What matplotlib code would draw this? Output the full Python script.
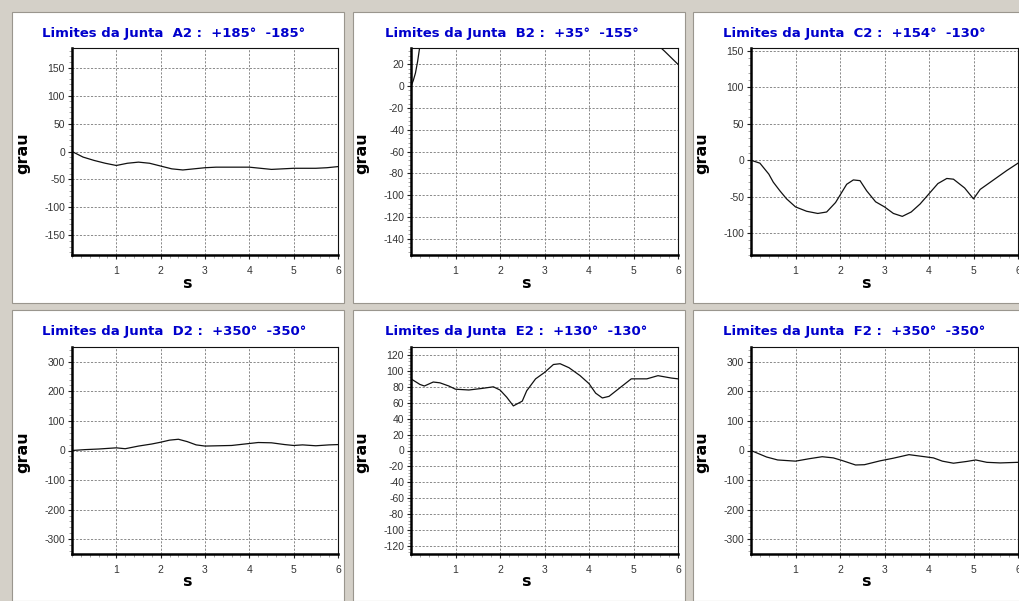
import matplotlib
matplotlib.use('Agg')
import matplotlib.pyplot as plt
from matplotlib.patches import Rectangle
from matplotlib.ticker import MultipleLocator

# ---------------- data ----------------
joints = ['A2', 'B2', 'C2', 'D2', 'E2', 'F2']
upper_limits = [185, 35, 154, 350, 130, 350]
lower_limits = [-185, -155, -130, -350, -130, -350]

a_t = [0, .25, .5, .75, 1, 1.25, 1.5, 1.75, 2, 2.25, 2.5, 2.75, 3, 3.25, 3.5,
       3.75, 4, 4.25, 4.5, 4.75, 5, 5.25, 5.5, 5.75, 6]
a_val = [0, -10, -16, -21, -25, -21, -19, -21, -26, -31, -33, -31, -29, -28, -28,
         -28, -28, -30, -32, -31, -30, -30, -30, -29, -27]

b_t = [0, 0.05, 0.1, 0.15, 0.2, 0.3, 3.0, 5.5, 5.62, 5.7, 5.8, 5.9, 6.0]
b_val = [0, 5, 12, 23, 37, 52, 80, 45, 35, 32, 28, 24, 20]

c_t = [0, 0.2, 0.4, 0.5, 0.65, 0.8, 1.0, 1.25, 1.5, 1.7, 1.9, 2.0, 2.15, 2.3,
       2.45, 2.6, 2.8, 3.0, 3.2, 3.4, 3.6, 3.8, 4.0, 4.2, 4.4, 4.55, 4.8, 5.0,
       5.15, 5.45, 5.75, 6.0]
c_val = [0, -4, -19, -30, -42, -53, -64, -70, -73, -71, -58, -48, -33, -27,
         -28, -42, -57, -64, -73, -77, -71, -60, -46, -32, -25, -26, -38, -53,
         -40, -27, -14, -4]

d_t = [0, 0.3, 0.6, 1.0, 1.2, 1.5, 1.8, 2.0, 2.2, 2.4, 2.6, 2.8, 3.0, 3.3, 3.6,
       3.9, 4.2, 4.5, 4.8, 5.0, 5.2, 5.5, 5.8, 6.0]
d_val = [0, 3, 5, 9, 6, 15, 22, 28, 35, 38, 30, 19, 15, 16, 17, 22, 27, 26, 20,
         17, 19, 16, 19, 20]

e_t = [0, 0.2, 0.3, 0.5, 0.65, 0.85, 1.0, 1.3, 1.6, 1.85, 2.0, 2.15, 2.3, 2.5,
       2.6, 2.8, 3.0, 3.2, 3.35, 3.55, 3.8, 4.0, 4.15, 4.3, 4.45, 4.7, 4.95,
       5.3, 5.55, 5.85, 6.0]
e_val = [90, 83, 81, 86, 85, 81, 77, 76, 78, 80, 76, 67, 56, 62, 75, 90, 98,
         108, 109, 104, 94, 84, 72, 66, 68, 79, 90, 90, 94, 91, 90]

f_t = [0, 0.35, 0.6, 1.0, 1.3, 1.6, 1.85, 2.05, 2.35, 2.55, 2.9, 3.2, 3.55,
       3.85, 4.1, 4.3, 4.55, 4.85, 5.05, 5.3, 5.6, 6.0]
f_val = [0, -22, -32, -36, -28, -21, -25, -34, -49, -48, -35, -26, -14, -20,
         -25, -36, -43, -37, -32, -40, -42, -40]

series_t = [a_t, b_t, c_t, d_t, e_t, f_t]
series_v = [a_val, b_val, c_val, d_val, e_val, f_val]

x_ticks = [1, 2, 3, 4, 5, 6]
x_tick_labels = ['1', '2', '3', '4', '5', '6']
y_ticks = [
    [150, 100, 50, 0, -50, -100, -150],
    [20, 0, -20, -40, -60, -80, -100, -120, -140],
    [150, 100, 50, 0, -50, -100],
    [300, 200, 100, 0, -100, -200, -300],
    [120, 100, 80, 60, 40, 20, 0, -20, -40, -60, -80, -100, -120],
    [300, 200, 100, 0, -100, -200, -300],
]
y_tick_labels = [[str(v) for v in t] for t in y_ticks]

title_text = 'Limites da Junta'
y_label = 'grau'
x_label = 's'

# ---------------- layout (pixels) ----------------
W, H = 1019, 601
fig = plt.figure(figsize=(W / 100, H / 100), dpi=100, facecolor='#D4D0C8')

panel_x = [12, 353, 693]
panel_y = [12, 310]
panel_w, panel_h = 332, 291
ax_left = [72, 411, 751]
ax_width = [266, 267, 267]
ax_top = [48, 347]
ax_height = 207
title_x = [42, 385, 723]
title_y = [33, 332]

for r in range(2):
    for c in range(3):
        fig.add_artist(Rectangle((panel_x[c] / W, 1 - (panel_y[r] + panel_h) / H),
                                 panel_w / W, panel_h / H,
                                 transform=fig.transFigure, facecolor='white',
                                 edgecolor='#9A968E', linewidth=0.8, zorder=0))

for i in range(6):
    r, c = divmod(i, 3)
    L = ax_left[c]
    T = ax_top[r]
    w = ax_width[c]
    ax = fig.add_axes([L / W, 1 - (T + ax_height) / H, w / W, ax_height / H])
    ax.set_facecolor('white')
    ax.plot(series_t[i], series_v[i], color='#111111', linewidth=0.9)
    ax.set_xlim(0, 6)
    ax.set_ylim(lower_limits[i], upper_limits[i])
    ax.set_xticks(x_ticks)
    ax.set_xticklabels(x_tick_labels)
    ax.set_yticks(y_ticks[i])
    ax.set_yticklabels(y_tick_labels[i])
    ax.xaxis.set_minor_locator(MultipleLocator(0.2))
    step = abs(y_ticks[i][0] - y_ticks[i][1])
    ax.yaxis.set_minor_locator(MultipleLocator(step / 5))
    ax.tick_params(which='major', length=3, width=0.8, direction='out',
                   color='#222222', labelsize=7.5, labelcolor='#333333')
    ax.tick_params(axis='x', which='major', pad=5)
    ax.tick_params(axis='y', which='major', pad=2)
    ax.tick_params(which='minor', length=2, width=0.6, direction='out',
                   color='#999999')
    for lbl in ax.get_xticklabels() + ax.get_yticklabels():
        lbl.set_family('Liberation Sans')
    ax.grid(True, which='major', linestyle=(0, (2.2, 1.6)), color='#8A8A8A',
            linewidth=0.7)
    for s in ['top', 'right']:
        ax.spines[s].set_linewidth(0.8)
        ax.spines[s].set_color('#111111')
    for s in ['left', 'bottom']:
        ax.spines[s].set_linewidth(1.8)
        ax.spines[s].set_color('black')

    title = f'{title_text}  {joints[i]} :  +{upper_limits[i]}\u00b0  {lower_limits[i]}\u00b0'
    fig.text(title_x[c] / W, 1 - title_y[r] / H, title, ha='left', va='center',
             color='#0000CC', fontweight='bold', fontsize=9.5,
             family='DejaVu Sans')
    fig.text((L - 49) / W, 1 - (T + ax_height / 2 + 2) / H, y_label,
             rotation=90, ha='center', va='center', fontweight='bold',
             fontsize=11.5, family='DejaVu Sans', color='black')
    fig.text((L + 0.43 * w) / W, 1 - (T + ax_height + 28) / H, x_label,
             ha='center', va='center', fontweight='bold', fontsize=11.5,
             family='DejaVu Sans', color='black')

fig.savefig('out.png', dpi=100, facecolor=fig.get_facecolor())
